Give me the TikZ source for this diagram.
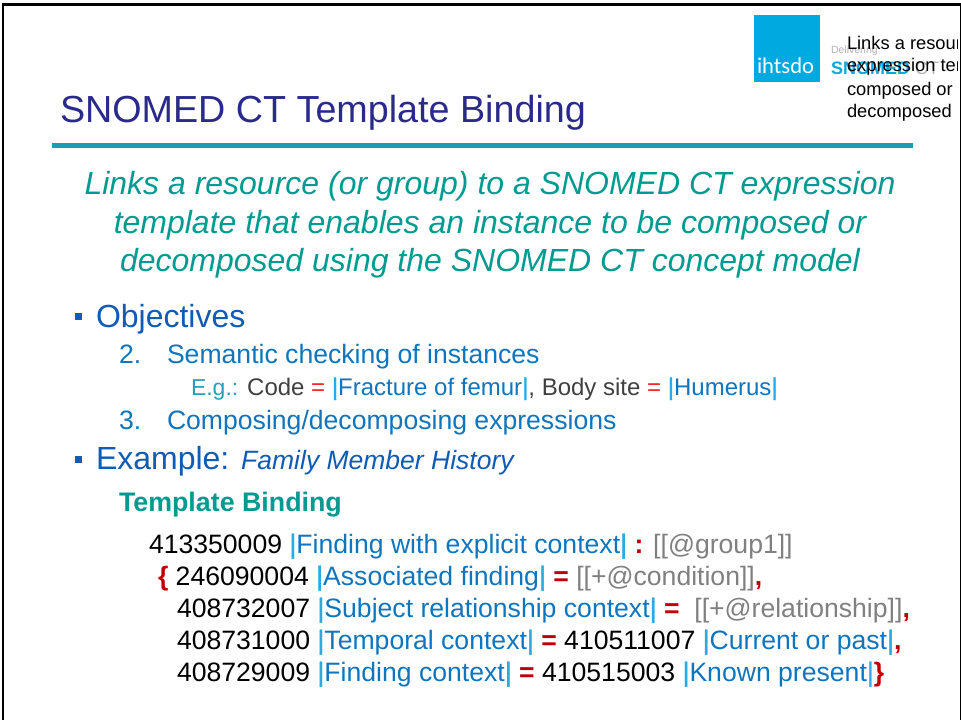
\documentclass[tikz,border=0pt]{standalone}
\usepackage{fontspec}
\setmainfont{Liberation Sans}
\newfontfamily\logofont{Carlito}
\newfontfamily\barfont[FakeBold=1.2]{Liberation Sans}
\definecolor{titleblue}{HTML}{2A2A8C}
\definecolor{rulec}{HTML}{1E9BB4}
\definecolor{teal}{HTML}{009B90}
\definecolor{objblue}{HTML}{0F5BB5}
\definecolor{subblue}{HTML}{0F75BD}
\definecolor{barblue}{HTML}{29ABE2}
\definecolor{redd}{HTML}{C00000}
\definecolor{brightred}{HTML}{FF2020}
\definecolor{greyt}{HTML}{808080}
\definecolor{darkt}{HTML}{404040}
\definecolor{eg}{HTML}{2A9DB8}
\definecolor{logo}{HTML}{00A9E0}
\newcommand{\fs}[1]{\fontsize{#1}{#1}\selectfont}
\newcommand{\bb}{\textcolor{barblue}{\barfont|}}
\newcommand{\cb}[1]{\textcolor{subblue}{#1}}
\newcommand{\rd}[1]{\textcolor{redd}{\textbf{#1}}}
\newcommand{\gy}[1]{\textcolor{greyt}{#1}}
\tikzset{
  x=1pt,y=-1pt,
  txt/.style={anchor=base west,inner sep=0pt,outer sep=0pt},
  centred/.style={anchor=base,inner sep=0pt,outer sep=0pt,font=\fs{32}\itshape,text=teal},
  exprline/.style={txt,font=\fs{26.6}},
  num/.style={txt,font=\fs{26.6},text=subblue},
  callout/.style={txt,font=\fs{18.3},text=black},
  bullet/.style={fill=objblue,draw=none}
}
\begin{document}
\begin{tikzpicture}
\useasboundingbox (0,0) rectangle (961,720);
\fill[white] (0,0) rectangle (961,720);
% slide frame
\fill[black] (2,3) rectangle (961,6);
\fill[black] (2,3) rectangle (4,720);
\fill[black] (959.5,3) rectangle (961,720);
% logo
\fill[logo] (754,15) rectangle (820,82);
\node[txt,font=\logofont\fs{22.6},text=white] (ihtsdo) at (757,73) {ihtsdo};
\node[txt,font=\fs{10.5},text=greyt!60] (deliv) at (831,53) {Delivering};
\node[txt,font=\fs{18},text=logo] (snomedlogo) at (831,74) {\textbf{SNOMED} \textcolor{greyt!60}{CT}};
\begin{scope}
\clip (0,0) rectangle (957.5,720);
\node[callout] (c1) at (847,49) {Links a resource};
\node[callout] (c2) at (847,71) {expression template};
\node[callout] (c3) at (847,95) {composed or};
\node[callout] (c4) at (847,117) {decomposed};
\end{scope}
% title
\node[txt,font=\fs{37.7},text=titleblue] (title) at (60,122) {SNOMED CT Template Binding};
\fill[rulec] (52,143) rectangle (913,148);
% lead
\node[centred] (l1) at (490,194) {Links a resource (or group) to a SNOMED CT expression};
\node[centred] (l2) at (490,233) {template that enables an instance to be composed or};
\node[centred] (l3) at (490,271) {decomposed using the SNOMED CT concept model};
% objectives
\fill[bullet] (75,313) rectangle (82,320);
\node[txt,font=\fs{32},text=objblue] (obj) at (96,327) {Objectives};
\node[num] (n2) at (119,363) {2.};
\node[num] (t2) at (167,363) {Semantic checking of instances};
\node[txt,font=\fs{24}] (eg) at (191,395) {\textcolor{eg}{\fs{23}E.g.:} \textcolor{darkt}{Code} \textcolor{brightred}{=} \bb\cb{Fracture of femur}\bb\textcolor{darkt}{, Body site} \textcolor{brightred}{=} \bb\cb{Humerus}\bb};
\node[num] (n3) at (119,429) {3.};
\node[num] (t3) at (167,429) {Composing/decomposing expressions};
\fill[bullet] (75,456) rectangle (82,463);
\node[txt,font=\fs{32},text=objblue] (ex) at (96,469) {Example: \fs{26.5}\itshape Family Member History};
% template binding
\node[txt,font=\fs{26.8}\bfseries,text=teal] (tb) at (119,511) {Template Binding};
\node[exprline] (e1) at (149,553) {413350009 \bb\cb{Finding with explicit context}\bb\ \rd{:} \gy{[[@group1]]}};
\node[exprline] (e2) at (158,585) {\rd{\{} 246090004 \bb\cb{Associated finding}\bb\ \rd{=} \gy{[[+@condition]]}\rd{,}};
\node[exprline] (e3) at (177,617) {408732007 \bb\cb{Subject relationship context}\bb\ \rd{=}\ \ \gy{[[+@relationship]]}\rd{,}};
\node[exprline] (e4) at (177,649) {408731000 \bb\cb{Temporal context}\bb\ \rd{=} 410511007 \bb\cb{Current or past}\bb\rd{,}};
\node[exprline] (e5) at (177,681) {408729009 \bb\cb{Finding context}\bb\ \rd{=} 410515003 \bb\cb{Known present}\bb\rd{\}}};
\end{tikzpicture}
\end{document}
